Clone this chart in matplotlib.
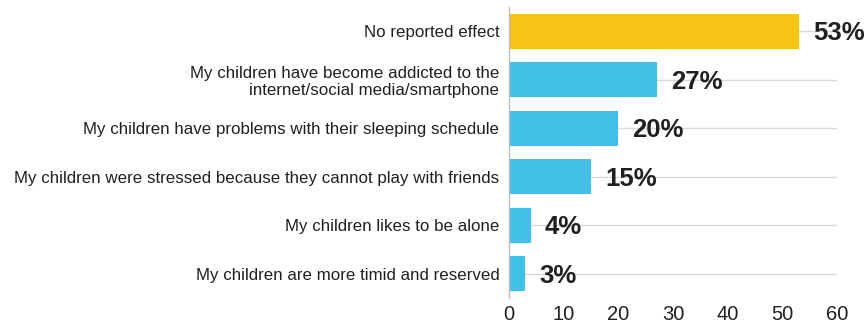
import matplotlib.pyplot as plt

categories = [
    'No reported effect',
    'My children have become addicted to the\ninternet/social media/smartphone',
    'My children have problems with their sleeping schedule',
    'My children were stressed because they cannot play with friends',
    'My children likes to be alone',
    'My children are more timid and reserved',
]
values = [53, 27, 20, 15, 4, 3]
colors = ['#F9C315', '#41C0E8', '#41C0E8', '#41C0E8', '#41C0E8', '#41C0E8']
xticks = [0, 10, 20, 30, 40, 50, 60]

plt.rcParams['font.family'] = ['Liberation Sans', 'DejaVu Sans']

fig = plt.figure(figsize=(8.68, 3.24), dpi=100)
ax = fig.add_axes([0.5864, 0.0802, 0.3779, 0.8982])

pos = list(range(len(categories)))
ax.barh(pos, values, height=0.72, color=colors, zorder=2)
for y, v in zip(pos, values):
    ax.text(v + 2.6, y + 0.04, f'{v}%', va='center', ha='left', fontsize=18.5,
            fontweight='bold', color='#231f20', zorder=3)

ax.set_xlim(0, 60)
ax.set_ylim(5.5, -0.5)
ax.set_yticks(pos)
ax.set_yticklabels(categories, fontsize=12.2, color='#231f20', linespacing=1.15)
ax.set_xticks(xticks)
ax.set_xticklabels([str(t) for t in xticks], fontsize=14.5, color='#231f20')
ax.tick_params(axis='both', length=0)
ax.tick_params(axis='y', pad=7)
ax.tick_params(axis='x', pad=5)
ax.grid(axis='y', color='#d9d9d9', linewidth=1, zorder=0)
for s in ['top', 'right', 'bottom']:
    ax.spines[s].set_visible(False)
ax.spines['left'].set_color('#bdbdbd')
ax.spines['left'].set_linewidth(1)

fig.savefig('out.png', dpi=100)
